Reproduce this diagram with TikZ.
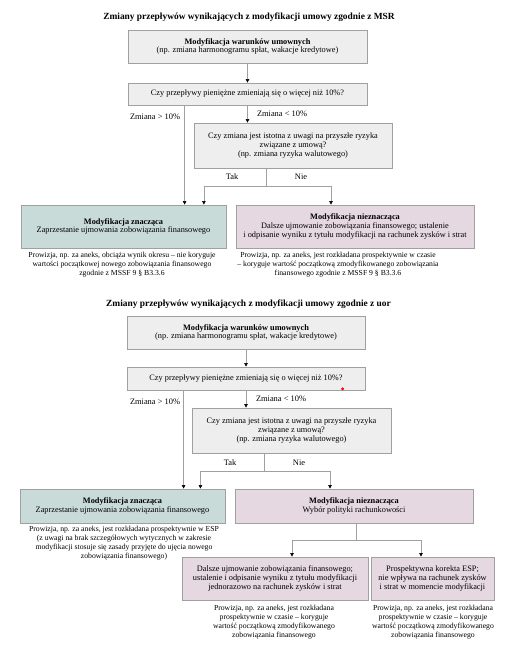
\documentclass[tikz,border=0pt]{standalone}
\usepackage{fontspec}
\setmainfont{Liberation Serif}
\usetikzlibrary{arrows.meta}
\definecolor{boxgray}{HTML}{EDEEED}
\definecolor{boxgreen}{HTML}{C9DBD9}
\definecolor{boxpink}{HTML}{E6D8E1}
\definecolor{edgegray}{HTML}{A0A0A0}
\tikzset{
	box/.style={draw=edgegray,line width=0.8pt,fill=boxgray,align=center,inner sep=1pt,font=\fontsize{8.3}{8.8}\selectfont},
	grn/.style={box,fill=boxgreen},
	pnk/.style={box,fill=boxpink},
	note/.style={align=center,inner sep=0pt,font=\fontsize{7.7}{9}\selectfont},
	lbl/.style={inner sep=0pt,font=\fontsize{8.4}{9}\selectfont},
	ttl/.style={inner sep=0pt,font=\bfseries\fontsize{9.4}{10}\selectfont},
	arr/.style={edgegray,line width=0.6pt,-{Triangle[color=black,width=3.5pt,length=3.5pt]}},
	ln/.style={edgegray,line width=0.6pt}
}
\begin{document}
\begin{tikzpicture}[x=1pt,y=-1pt]
			\useasboundingbox (0,0) rectangle (528,649);
			% MSR
			\node[ttl] (t1) at (249,17) {Zmiany przepływów wynikających z modyfikacji umowy zgodnie z MSR};
			\node[box,minimum width=239pt,minimum height=33pt] (mod1) at (247.5,46.5) {\textbf{Modyfikacja warunków umownych}\\(np. zmiana harmonogramu spłat, wakacje kredytowe)};
			\node[box,minimum width=239pt,minimum height=22pt] (q1) at (247.5,94) {Czy przepływy pieniężne zmieniają się o więcej niż 10\%?};
			\node[box,minimum width=198pt,minimum height=45pt] (risk1) at (293,145.5) {Czy zmiana jest istotna z uwagi na przyszłe ryzyka\\związane z umową?\\(np. zmiana ryzyka walutowego)};
			\node[grn,minimum width=205pt,minimum height=43pt] (sig1) at (123.5,226.5) {\textbf{Modyfikacja znacząca}\\Zaprzestanie ujmowania zobowiązania finansowego};
			\node[pnk,minimum width=238pt,minimum height=43pt] (ins1) at (355,226.5) {\textbf{Modyfikacja nieznacząca}\\Dalsze ujmowanie zobowiązania finansowego; ustalenie\\i odpisanie wyniku z tytułu modyfikacji na rachunek zysków i strat};
			\node[note] (n1) at (122,265) {Prowizja, np. za aneks, obciąża wynik okresu – nie koryguje\\wartości początkowej nowego zobowiązania finansowego\\zgodnie z MSSF 9 § B3.3.6};
			\node[note] (n2) at (338,265) {Prowizja, np. za aneks, jest rozkładana prospektywnie w czasie\\– koryguje wartość początkową zmodyfikowanego zobowiązania\\finansowego zgodnie z MSSF 9 § B3.3.6};
			\node[lbl] (gt1) at (155,117) {Zmiana > 10\%};
			\node[lbl] (lt1) at (282,114) {Zmiana < 10\%};
			\node[lbl] (yes1) at (232,177) {Tak};
			\node[lbl] (no1) at (301,177) {Nie};
			\draw[arr] (mod1) -- (q1);
			\draw[arr] (q1.south west) ++(57,0) coordinate (q1l) -- (q1l |- sig1.north);
			\draw[arr] (q1.south) -- (q1.south |- risk1.north);
			\draw[ln] (risk1.south) ++(-27,0) coordinate (r1) -- ++(0,18) coordinate (r1j);
			\draw[arr] (r1j) -| ([xshift=-22.5pt]sig1.north east);
			\draw[arr] (r1j) -| ([xshift=-24pt]ins1.north);
			% uor
			\node[ttl] (t2) at (248.5,304) {Zmiany przepływów wynikających z modyfikacji umowy zgodnie z uor};
			\node[box,minimum width=238pt,minimum height=33pt] (mod2) at (246,332.5) {\textbf{Modyfikacja warunków umownych}\\(np. zmiana harmonogramu spłat, wakacje kredytowe)};
			\node[box,minimum width=238pt,minimum height=23pt] (q2) at (246,378.5) {Czy przepływy pieniężne zmieniają się o więcej niż 10\%?};
			\node[box,minimum width=199pt,minimum height=45pt] (risk2) at (291.5,430.5) {Czy zmiana jest istotna z uwagi na przyszłe ryzyka\\związane z umową?\\(np. zmiana ryzyka walutowego)};
			\node[grn,minimum width=205pt,minimum height=34pt] (sig2) at (122.5,506) {\textbf{Modyfikacja znacząca}\\Zaprzestanie ujmowania zobowiązania finansowego};
			\node[pnk,minimum width=238pt,minimum height=34pt] (ins2) at (354,506) {\textbf{Modyfikacja nieznacząca}\\Wybór polityki rachunkowości};
			\node[pnk,minimum width=186pt,minimum height=43pt] (once2) at (275,578.5) {Dalsze ujmowanie zobowiązania finansowego;\\ustalenie i odpisanie wyniku z tytułu modyfikacji\\jednorazowo na rachunek zysków i strat};
			\node[pnk,minimum width=123pt,minimum height=43pt] (esp2) at (432.5,578.5) {Prospektywna korekta ESP;\\nie wpływa na rachunek zysków\\i strat w momencie modyfikacji};
			\node[note] (n3) at (124,543.5) {Prowizja, np. za aneks, jest rozkładana prospektywnie w ESP\\(z uwagi na brak szczegółowych wytycznych w zakresie\\modyfikacji stosuje się zasady przyjęte do ujęcia nowego\\zobowiązania finansowego)};
			\node[note] (n4) at (274,622.5) {Prowizja, np. za aneks, jest rozkładana\\prospektywnie w czasie – koryguje\\wartość początkową zmodyfikowanego\\zobowiązania finansowego};
			\node[note] (n5) at (433,622.5) {Prowizja, np. za aneks, jest rozkładana\\prospektywnie w czasie – koryguje\\wartość początkową zmodyfikowanego\\zobowiązania finansowego};
			\node[lbl] (gt2) at (155,402) {Zmiana > 10\%};
			\node[lbl] (lt2) at (281,399) {Zmiana < 10\%};
			\node[lbl] (yes2) at (230,463) {Tak};
			\node[lbl] (no2) at (299,463) {Nie};
			\fill[red] (q2.south west) ++(216,-1.5) circle (1.6pt) coordinate (dot);
			\draw[arr] (mod2) -- (q2);
			\draw[arr] (q2.south west) ++(57,0) coordinate (q2l) -- (q2l |- sig2.north);
			\draw[arr] (q2.south) -- (q2.south |- risk2.north);
			\draw[ln] (risk2.south) ++(-27.5,0) coordinate (r2) -- ++(0,18) coordinate (r2j);
			\draw[arr] (r2j) -| ([xshift=-25pt]sig2.north east);
			\draw[arr] (r2j) -| ([xshift=-24pt]ins2.north);
			\draw[ln] (ins2.south) ++(2,0) coordinate (i2) -- ++(0,17) coordinate (i2j);
			\draw[arr] (i2j) -| (once2.north -| 292,0);
			\draw[arr] (i2j) -| (esp2.north -| 421,0);
		\end{tikzpicture}
\end{document}
